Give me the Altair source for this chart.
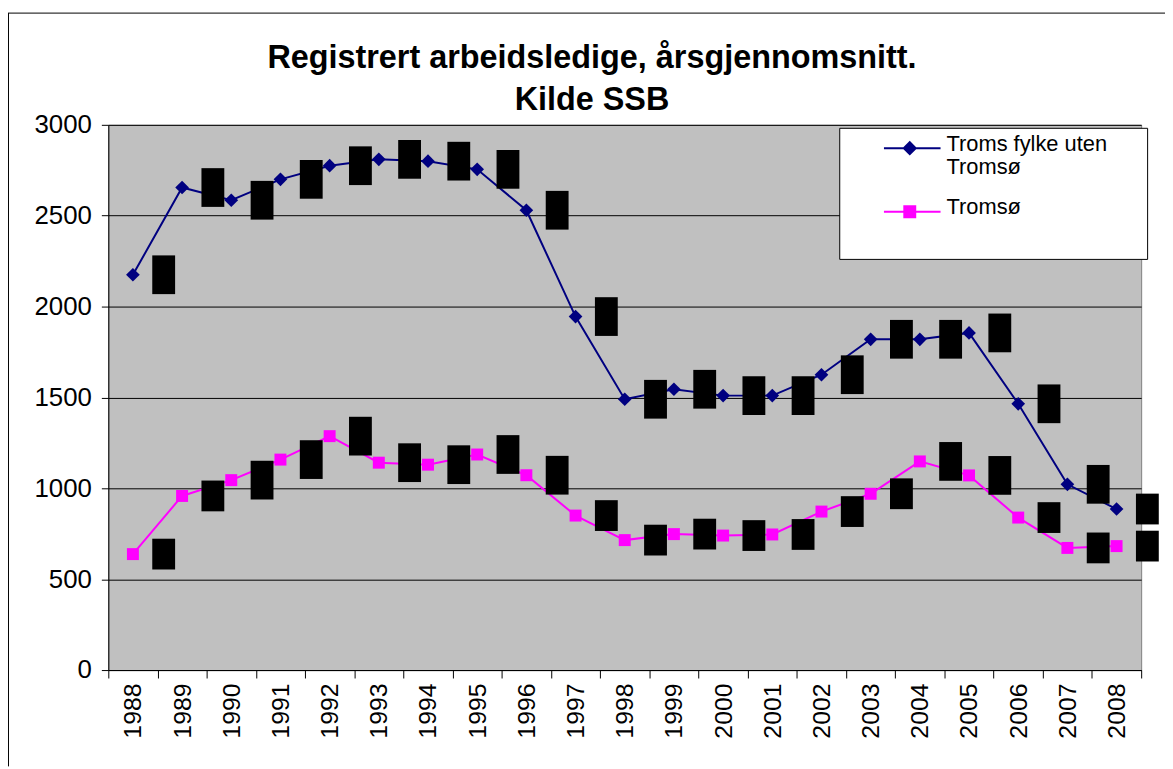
import altair as alt
import pandas as pd

FONT = "Liberation Sans"

years = ["1988", "1989", "1990", "1991", "1992", "1993", "1994", "1995", "1996", "1997",
         "1998", "1999", "2000", "2001", "2002", "2003", "2004", "2005", "2006", "2007", "2008"]
troms_uten_tromso = [2175, 2655, 2585, 2700, 2775, 2810, 2800, 2755, 2530, 1945,
                     1490, 1545, 1510, 1510, 1625, 1820, 1820, 1855, 1465, 1022, 886]
tromso = [638, 958, 1045, 1158, 1287, 1141, 1130, 1186, 1072, 850,
          715, 748, 740, 746, 872, 970, 1148, 1071, 839, 672, 682]
series_names = ["Troms fylke uten Tromsø", "Tromsø"]
series_colors = ["#000080", "#FF00FF"]
series_shapes = ["diamond", "square"]
y_ticks = [0, 500, 1000, 1500, 2000, 2500, 3000]
title_lines = ["Registrert arbeidsledige, årsgjennomsnitt.", "Kilde SSB"]

df = pd.DataFrame({
    "year": years + years,
    "value": troms_uten_tromso + tromso,
    "series": [series_names[0]] * len(years) + [series_names[1]] * len(years),
})

# legend symbols: line with marker (size=4 -> path units are pixels)
legend_paths = [
    "M271,0M22,-2.5H79M42,-2.5L48,-8.5L54,-2.5L48,3.5Z",
    "M271,0M271,29M22,-2.5H79M42.5,-8H53.5V3H42.5Z",
]
# data-label blocks (rendered as black boxes in the original)
box_long = "M-11.5,-19.5H11.5V19.5H-11.5Z"
box_short = "M-11.5,-15.5H11.5V15.5H-11.5Z"

x_enc = alt.X(
    "year:O", sort=years, title=None,
    scale=alt.Scale(type="band", paddingInner=0, paddingOuter=0),
    axis=alt.Axis(labelAngle=270, labelAlign="right", labelBaseline="middle",
                  tickBand="extent", tickSize=8, tickColor="black", tickWidth=1,
                  domainColor="black", domainWidth=1, labelFont=FONT, labelFontSize=25,
                  labelColor="black", labelPadding=5, grid=False, labelOverlap=False),
)
y_enc = alt.Y(
    "value:Q", title=None,
    scale=alt.Scale(domain=[0, 3000], nice=False, zero=True),
    axis=alt.Axis(values=y_ticks, format="d", tickSize=7, tickColor="black", tickWidth=1,
                  domainColor="black", domainWidth=1, labelFont=FONT, labelFontSize=26,
                  labelColor="black", labelPadding=10, gridColor="black", gridWidth=1,
                  gridOpacity=1),
)

base = alt.Chart(df)
layers = []
for name, col, shp in zip(series_names, series_colors, series_shapes):
    sub = base.transform_filter(alt.datum.series == name)
    layers.append(sub.mark_line(color=col, strokeWidth=2).encode(x=x_enc, y=y_enc))
    layers.append(sub.mark_point(filled=True, shape=shp, size=190 if shp == "diamond" else 145,
                                 color=col, opacity=1, strokeWidth=0).encode(x=x_enc, y=y_enc))

layers.append(base.transform_filter(alt.datum.value >= 1000).mark_point(
    filled=True, shape=box_long, size=4, color="black", opacity=1, strokeWidth=0, xOffset=31
).encode(x=x_enc, y=y_enc))
layers.append(base.transform_filter(alt.datum.value < 1000).mark_point(
    filled=True, shape=box_short, size=4, color="black", opacity=1, strokeWidth=0, xOffset=31
).encode(x=x_enc, y=y_enc))

leg = alt.Legend(
    title=None, orient="none", legendX=736, legendY=3,
    fillColor="white", strokeColor="black", padding=12,
    labelFont=FONT, labelFontSize=22, labelColor="black", labelLimit=500,
    labelBaseline="alphabetic", labelOffset=74, rowPadding=18,
    symbolSize=4, symbolOpacity=1, symbolStrokeWidth=2,
    labelExpr="datum.label == 'Troms fylke uten Tromsø' ? ['Troms fylke uten', 'Tromsø'] : datum.label",
)
layers.append(base.mark_point(filled=True, size=4, opacity=0, strokeWidth=2).encode(
    x=x_enc, y=y_enc,
    shape=alt.Shape("series:N", scale=alt.Scale(domain=series_names, range=legend_paths), legend=leg),
    fill=alt.Fill("series:N", scale=alt.Scale(domain=series_names, range=series_colors), legend=leg),
    stroke=alt.Stroke("series:N", scale=alt.Scale(domain=series_names, range=series_colors), legend=leg),
))

# outer chart-area frame
frame_df = pd.DataFrame({"k": [0]})
frame = alt.Chart(frame_df)
layers.append(frame.mark_rule(color="black", strokeWidth=1).encode(
    x=alt.value(-100.5), y=alt.value(-112.5), y2=alt.value(646)))
layers.append(frame.mark_rule(color="black", strokeWidth=1).encode(
    y=alt.value(-112.5), x=alt.value(-101), x2=alt.value(1064)))

chart = alt.layer(*layers).properties(
    width=1040, height=549,
    title=alt.Title(title_lines, font=FONT, fontSize=32.6, fontWeight="bold", color="black",
                    anchor="middle", frame="group", dx=-33, offset=-131,
                    baseline="alphabetic", lineHeight=43),
    autosize=alt.AutoSizeParams(type="none"),
    padding={"left": 101, "top": 115, "right": 24, "bottom": 97},
    background="white",
).configure_view(stroke="#808080", strokeWidth=1, fill="#C0C0C0")

chart.save("out.html", embed_options={"renderer": "svg", "actions": False})
